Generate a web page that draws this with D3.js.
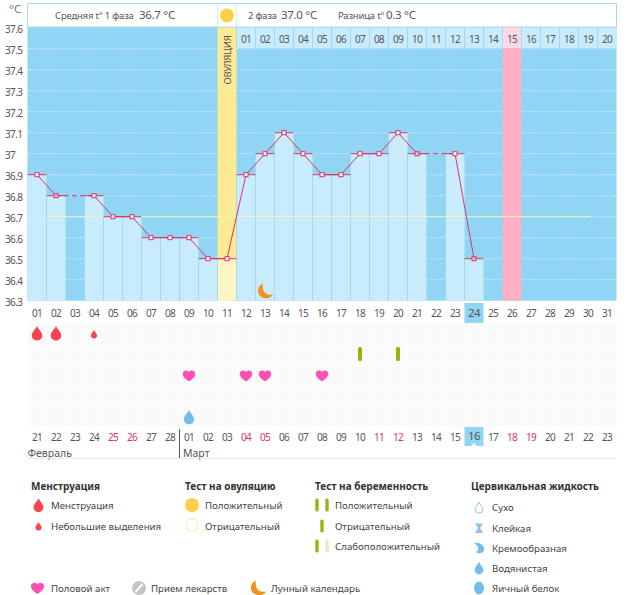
<!DOCTYPE html>
<html>
<head>
<meta charset="utf-8">
<script src="https://cdn.jsdelivr.net/npm/d3@7"></script>
<style>
body{margin:0;background:#fff}
text{font-family:"Noto Sans",sans-serif;fill:#555}
.num{letter-spacing:-.6px}
</style>
</head>
<body>
<div class="chart"></div>
<script>
// chart data
const days = d3.range(1, 32)
const temps = [36.9,36.8,null,36.8,36.7,36.7,36.6,36.6,36.6,36.5,36.5,36.9,37.0,37.1,37.0,36.9,36.9,37.0,37.0,37.1,37.0,null,37.0,36.5]
const tempTicks = [36.3,36.4,36.5,36.6,36.7,36.8,36.9,37.0,37.1,37.2,37.3,37.4,37.5,37.6]
const cycleLabels = ['01','02','03','04','05','06','07','08','09','10','11','12','13','14','15','16','17','18','19','20']
const dateLabels = ['21','22','23','24','25','26','27','28','01','02','03','04','05','06','07','08','09','10','11','12','13','14','15','16','17','18','19','20','21','22','23']
const weekendDays = [5,6,12,13,19,20,26,27]
const tintedDays = [2,21,24]
const meanTemp = 36.7
const ovulationDay = 11
const periodDay = 26
const todayDay = 24
const mensesDays = [1,2]
const spottingDays = [4]
const sexDays = [9,12,13,16]
const pregTestDays = [18,20]
const wateryDays = [9]
const moonDays = [13]

const W = 626, H = 595
const svg = d3.select('.chart').append('svg').attr('width',W).attr('height',H).style('display','block')

const x = d3.scaleBand().domain(days).range([27.5,616.5])
const y = d3.scaleLinear().domain([36.3,37.6]).range([300.7,27.7])
const rowY = d3.scalePoint().domain([0,1,2,3,4]).range([334,417])
const bw = x.bandwidth()
const cx = d => x(d)+bw/2

const BLUE='#90d6f4', PALE='#c9ecfc', SEP='#a3d8f0', RED='#d6336c'

// shapes, all drawn around 0,0
function dropPath(s){
  return `M0,${-7.5*s} C${1.5*s},${-4*s} ${5.5*s},${-1*s} ${5.5*s},${2.5*s} A${5.5*s},${5.5*s} 0 0 1 ${-5.5*s},${2.5*s} C${-5.5*s},${-1*s} ${-1.5*s},${-4*s} 0,${-7.5*s}Z`
}
function heartPath(s){
  return `M0,${5.8*s} C${-2.5*s},${4.2*s} ${-6.2*s},${1.8*s} ${-6.2*s},${-1.6*s} C${-6.2*s},${-5.6*s} ${-1.6*s},${-6*s} 0,${-3.6*s} C${1.6*s},${-6*s} ${6.2*s},${-5.6*s} ${6.2*s},${-1.6*s} C${6.2*s},${1.8*s} ${2.5*s},${4.2*s} 0,${5.8*s}Z`
}
const moonPath = 'M-2,-7.5 C-8,-5 -9,2.5 -3.5,6 C1,8.5 6.5,7 8,3.5 C3.5,4.5 0,3 -1.5,-0.5 C-2.5,-3 -2.5,-5.5 -2,-7.5Z'
function mark(d,tx,ty,fill){
  return svg.append('path').attr('d',d).attr('fill',fill).attr('transform',`translate(${tx},${ty})`)
}

// plot background
svg.append('rect').attr('x',27.5).attr('y',27).attr('width',589).attr('height',273.7).attr('fill',BLUE)

// dotted grid
svg.append('g').selectAll('line').data(tempTicks.slice(1,-1)).join('line')
  .attr('x1',27.5).attr('x2',616.5).attr('y1',d=>y(d)).attr('y2',d=>y(d))
  .attr('stroke','#fff').attr('stroke-width',1).attr('stroke-dasharray','1,1.5').attr('opacity',.85)

// ovulation and expected period columns
svg.append('rect').attr('x',x(ovulationDay)).attr('y',27).attr('width',bw).attr('height',273.7).attr('fill','#fcea95')
svg.append('rect').attr('x',x(periodDay)).attr('y',27).attr('width',bw).attr('height',273.7).attr('fill','#fdafc6')

// top strip with cycle days
const topDays = days.slice(ovulationDay)
svg.append('g').selectAll('rect').data(topDays).join('rect')
  .attr('x',d=>x(d)).attr('y',27).attr('width',bw).attr('height',21)
  .attr('fill',d=>d==periodDay?'#fcd9e4':PALE)
svg.append('g').selectAll('line').data(topDays).join('line')
  .attr('x1',d=>x(d)).attr('x2',d=>x(d)).attr('y1',27).attr('y2',48)
  .attr('stroke',SEP).attr('stroke-width',1)
svg.append('g').selectAll('text').data(cycleLabels).join('text')
  .attr('class','num').attr('x',(d,i)=>cx(topDays[i])).attr('y',43).attr('text-anchor','middle').attr('font-size',10).text(d=>d)

// bars
const points = temps.map((t,i)=>({day:days[i],t})).filter(d=>d.t!==null)
svg.append('g').selectAll('rect').data(points).join('rect')
  .attr('x',d=>x(d.day)).attr('width',bw).attr('y',d=>y(d.t)).attr('height',d=>y(36.3)-y(d.t))
  .attr('fill',d=>d.day==ovulationDay?'#fdf5c4':PALE)
svg.append('g').selectAll('line').data(points.filter(d=>d.day>1)).join('line')
  .attr('x1',d=>x(d.day)).attr('x2',d=>x(d.day)).attr('y1',d=>y(d.t)).attr('y2',y(36.3))
  .attr('stroke',SEP).attr('stroke-width',1)

// mean line
svg.append('line').attr('x1',46.5).attr('x2',590).attr('y1',y(meanTemp)).attr('y2',y(meanTemp))
  .attr('stroke','#f5f2b0').attr('stroke-width',1)

// temperature line
const tempLine = d3.line().x(d=>cx(d.day)).y(d=>y(d.t))
d3.pairs(points).forEach(p=>{
  const gap = p[1].day-p[0].day>1
  svg.append('path').attr('d',tempLine(p)).attr('fill','none').attr('stroke',RED)
    .attr('stroke-width',1).attr('stroke-dasharray',gap?'5,3':null)
})
svg.append('g').selectAll('line').data(points).join('line')
  .attr('x1',d=>x(d.day)).attr('x2',d=>x(d.day)+bw).attr('y1',d=>y(d.t)).attr('y2',d=>y(d.t))
  .attr('stroke',RED).attr('stroke-width',1)
svg.append('g').selectAll('rect').data(points).join('rect')
  .attr('x',d=>cx(d.day)-2).attr('y',d=>y(d.t)-2).attr('width',4).attr('height',4)
  .attr('fill',d=>tintedDays.includes(d.day)?'#f6bcd2':'#fff').attr('stroke',RED).attr('stroke-width',1)

moonDays.forEach(d=>mark(moonPath,cx(d),291,'#f0921e'))

// y axis
const yAxis = d3.axisLeft(y).tickValues(tempTicks).tickSize(0).tickPadding(0)
  .tickFormat(d=>d===37?'37':d3.format('.1f')(d))
const yg = svg.append('g').attr('transform','translate(5,2)').call(yAxis)
yg.select('.domain').remove()
yg.selectAll('text').attr('class','num').attr('text-anchor','start').attr('font-size',10).attr('font-family','"Noto Sans",sans-serif')
svg.append('text').attr('x',9).attr('y',13).attr('font-size',11.5).style('fill','#777').text('°C')

// header
svg.append('rect').attr('x',27.5).attr('y',3.5).attr('width',589).attr('height',23.5).attr('fill','#fff').attr('stroke','#a9d8e6')
;[x(ovulationDay),x(ovulationDay)+bw].forEach(v=>svg.append('line').attr('x1',v).attr('x2',v).attr('y1',3.5).attr('y2',27).attr('stroke','#d5ecf3'))
svg.append('circle').attr('cx',cx(ovulationDay)).attr('cy',15.5).attr('r',7).attr('fill','#fdd04a')
const headTexts = [['Средняя t° 1 фаза',55,9.5],['36.7 °C',139,11.5],['2 фаза',248,9.5],['37.0 °C',281,11.5],['Разница t°',338,9.5],['0.3 °C',386,11.5]]
svg.append('g').selectAll('text').data(headTexts).join('text')
  .attr('x',d=>d[1]).attr('y',19).attr('font-size',d=>d[2]).style('letter-spacing',d=>d[2]<10?'-.2px':'-.3px').text(d=>d[0])
svg.append('text').attr('transform',`translate(${cx(ovulationDay)+3.5},60) rotate(-90)`)
  .attr('text-anchor','middle').attr('font-size',9.5).style('letter-spacing','-.3px').text('ОВУЛЯЦИЯ')

// event rows
svg.append('rect').attr('x',27.5).attr('y',323).attr('width',589).attr('height',104).attr('fill','#fbfafb')
svg.append('g').selectAll('line').data(days).join('line')
  .attr('x1',d=>x(d)).attr('x2',d=>x(d)).attr('y1',323).attr('y2',427).attr('stroke','#fff').attr('opacity',.7)
svg.append('g').selectAll('line').data(rowY.domain()).join('line')
  .attr('x1',27.5).attr('x2',616.5).attr('y1',d=>rowY(d)+10.4).attr('y2',d=>rowY(d)+10.4).attr('stroke','#fff').attr('opacity',.7)

mensesDays.forEach(d=>mark(dropPath(.95),cx(d),333,'#f8444c'))
spottingDays.forEach(d=>mark(dropPath(.55),cx(d),334,'#f8444c'))
sexDays.forEach(d=>mark(heartPath(1),cx(d),375.5,'#fb50b4'))
pregTestDays.forEach(d=>svg.append('rect').attr('x',cx(d)-2).attr('y',347).attr('width',4).attr('height',14).attr('rx',1.5).attr('fill','#8fb90f'))
wateryDays.forEach(d=>mark(dropPath(.92),cx(d),417,'#72bdf0'))

// date rows
svg.append('rect').attr('x',x(todayDay)).attr('y',303).attr('width',bw).attr('height',20).attr('fill',BLUE)
svg.append('rect').attr('x',x(todayDay)).attr('y',427).attr('width',bw).attr('height',19).attr('fill',BLUE)
svg.append('path').attr('d',`M${cx(todayDay)-3},446 L${cx(todayDay)},443 L${cx(todayDay)+3},446Z`).attr('fill','#fff')

const dateFill = d=>weekendDays.includes(d)?RED:'#555'
svg.append('g').selectAll('text').data(days).join('text')
  .attr('class','num').attr('x',d=>cx(d)).attr('y',d=>d==todayDay?317:316.5).attr('text-anchor','middle')
  .attr('font-size',d=>d==todayDay?11.5:10).text(d=>d<10?'0'+d:d)
svg.append('g').selectAll('text').data(days).join('text')
  .attr('class','num').attr('x',d=>cx(d)).attr('y',d=>d==todayDay?440:441).attr('text-anchor','middle')
  .attr('font-size',d=>d==todayDay?11.5:10).style('fill',dateFill).text((d,i)=>dateLabels[i])

svg.append('text').attr('x',27.5).attr('y',457).attr('font-size',10.5).text('Февраль')
svg.append('text').attr('x',183).attr('y',457).attr('font-size',10.5).text('Март')
svg.append('line').attr('x1',179.5).attr('x2',179.5).attr('y1',429).attr('y2',458).attr('stroke','#555')
svg.append('line').attr('x1',27).attr('x2',616.5).attr('y1',458.5).attr('y2',458.5).attr('stroke','#e6e6e6')

// legend
const legendTitles = [['Менструация',31],['Тест на овуляцию',185],['Тест на беременность',315],['Цервикальная жидкость',471]]
svg.append('g').selectAll('text').data(legendTitles).join('text')
  .attr('x',d=>d[1]).attr('y',490).attr('font-size',10).attr('font-weight',700).style('fill','#333').text(d=>d[0])
const legendItems = [['Менструация',51,505],['Небольшие выделения',51,526],['Положительный',205,505],['Отрицательный',205,526],
  ['Положительный',335,505],['Отрицательный',335,526],['Слабоположительный',335,546],
  ['Сухо',492,507],['Клейкая',492,528],['Кремообразная',492,548],['Водянистая',492,568],['Яичный белок',492,588],
  ['Половой акт',51,588],['Прием лекарств',151,588],['Лунный календарь',271,588]]
svg.append('g').selectAll('text').data(legendItems).join('text')
  .attr('x',d=>d[1]).attr('y',d=>d[2]+3.7).attr('font-size',9.7).style('fill','#444').text(d=>d[0])

mark(dropPath(.9),38.5,505,'#f8444c')
mark(dropPath(.55),38.5,526,'#f8444c')
svg.append('circle').attr('cx',192).attr('cy',505).attr('r',7).attr('fill','#fdd04a')
svg.append('circle').attr('cx',192).attr('cy',525).attr('r',6.3).attr('fill','#fff').attr('stroke','#fbeeb2').attr('stroke-width',1.2)
;[[317,505,'#8fb90f'],[327,505,'#8fb90f'],[322,526,'#8fb90f'],[317,546,'#8fb90f'],[327,546,'#e3ebc0']].forEach(b=>
  svg.append('rect').attr('x',b[0]-1.7).attr('y',b[1]-6.5).attr('width',3.4).attr('height',13).attr('rx',1.5).attr('fill',b[2]))

mark(dropPath(.7),479,507.5,'#fff').attr('stroke','#8cc4ec')
svg.append('path').attr('d','M475,523.5 H483 L480,528 L483,533 H475 L478,528Z').attr('fill','#8cc4ec')
mark('M-5,-5 C1,-6 6,-2 5,2 C4,6 -1,6 -3,4 C-1,3 0,1 -1,-1 C-2,-3 -4,-4 -5,-5Z',479,548,'#72bdf0')
mark(dropPath(.8),479,568,'#72bdf0')
svg.append('ellipse').attr('cx',479).attr('cy',588).attr('rx',5).attr('ry',6.5).attr('fill','#72bdf0')

mark(heartPath(1.05),37.5,588,'#fb50b4')
svg.append('circle').attr('cx',139).attr('cy',588).attr('r',7).attr('fill','#c4c4c4')
svg.append('line').attr('x1',135.5).attr('x2',142.5).attr('y1',592).attr('y2',584).attr('stroke','#fff').attr('stroke-width',2)
mark(moonPath,258,588,'#f0921e')
</script>
</body>
</html>
